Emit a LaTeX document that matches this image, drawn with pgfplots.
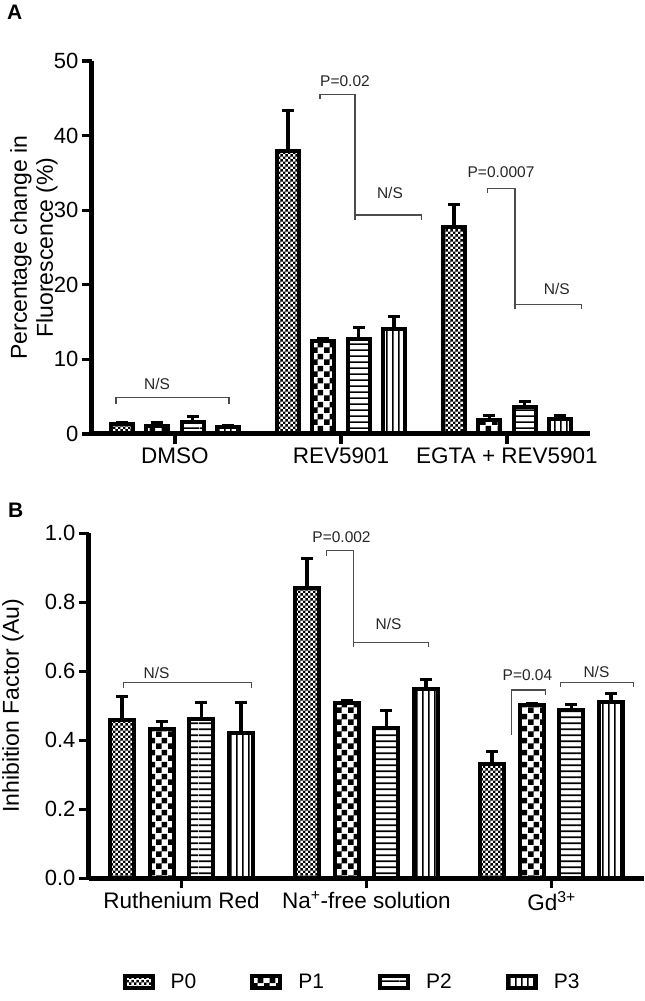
\documentclass[border=0pt]{standalone}
\usepackage{fontspec}
\setmainfont{Liberation Sans}
\usepackage{pgfplots}
\pgfplotsset{compat=1.18}
\usetikzlibrary{patterns}

\pgfdeclarepatternformonly{pzero}{\pgfpointorigin}{\pgfpoint{5.4pt}{5.4pt}}{\pgfpoint{5.4pt}{5.4pt}}{%
  \pgfpathrectangle{\pgfpointorigin}{\pgfpoint{2.7pt}{2.7pt}}%
  \pgfpathrectangle{\pgfpoint{2.7pt}{2.7pt}}{\pgfpoint{2.7pt}{2.7pt}}%
  \pgfusepath{fill}}
\pgfdeclarepatternformonly{pone}{\pgfpointorigin}{\pgfpoint{12pt}{12pt}}{\pgfpoint{12pt}{12pt}}{%
  \pgfpathrectangle{\pgfpointorigin}{\pgfpoint{6pt}{6pt}}%
  \pgfpathrectangle{\pgfpoint{6pt}{6pt}}{\pgfpoint{6pt}{6pt}}%
  \pgfusepath{fill}}
\pgfdeclarepatternformonly{ptwo}{\pgfpoint{0pt}{0pt}}{\pgfpoint{200pt}{5.7pt}}{\pgfpoint{200pt}{5.7pt}}{%
  \pgfpathrectangle{\pgfpoint{0pt}{2.1pt}}{\pgfpoint{200pt}{1.6pt}}%
  \pgfusepath{fill}}
\pgfdeclarepatternformonly{pthree}{\pgfpoint{0pt}{0pt}}{\pgfpoint{5.7pt}{500pt}}{\pgfpoint{5.7pt}{500pt}}{%
  \pgfpathrectangle{\pgfpoint{2.1pt}{0pt}}{\pgfpoint{1.6pt}{500pt}}%
  \pgfusepath{fill}}

\tikzset{
  br/.style={draw=black!70, line width=1.2pt},
  lbl/.style={font=\fontsize{15.5}{18}\selectfont, text=black!85, inner sep=0pt, anchor=center},
}
\pgfplotsset{
  panel/.style={
    scale only axis,
    ybar,
    axis x line*=bottom, axis y line*=left,
    axis line style={line width=5pt, -},
    xmin=-0.5, xmax=2.5,
    xtick={0,1,2},
    tick align=outside,
    major tick length=10pt,
    tick style={line width=3.3pt, black},
    /pgf/number format/assume math mode=true,
    yticklabel style={font=\fontsize{22}{26}\selectfont},
    xticklabel style={font=\fontsize{22.5}{26}\selectfont},
    clip=false,
    every axis plot/.append style={draw=black, line width=4pt,
      error bars/y dir=plus, error bars/y explicit,
      error bars/error bar style={line width=3.3pt, black},
      error bars/error mark options={line width=3pt, mark size=6pt, black, rotate=90}},
    legend image code/.code={\draw[##1, /tikz/line width=4pt] (0pt,-6pt) rectangle (28pt,6pt); \path (42pt,0pt);},
  },
}

\begin{document}
\begin{tikzpicture}
\path[use as bounding box] (0pt,0pt) rectangle (645pt,1001pt);
\node[anchor=north west, inner sep=0pt, font=\fontsize{21}{24}\selectfont\bfseries] at (7pt,996pt) {A};
\node[anchor=north west, inner sep=0pt, font=\fontsize{21}{24}\selectfont\bfseries] at (8pt,498pt) {B};

% ---------------- Panel A
\begin{axis}[panel,
  at={(92pt,567pt)}, anchor=south west,
  width=498pt, height=373pt, bar width=22pt,
  ymin=0, ymax=50, ytick={0,10,20,30,40,50},
  xticklabels={DMSO, REV5901, EGTA + REV5901},
  ylabel={Percentage change in\\Fluorescence (\%)},
  ylabel style={align=center, font=\fontsize{23}{26}\selectfont, at={(axis description cs:-0.1165,0.5)}, anchor=center},
]
\addplot[bar shift=-53pt, pattern=pzero] coordinates {(0,1.3) +- (0,0.3) (1,37.9) +- (0,5.5) (2,27.8) +- (0,3.0)};
\addplot[bar shift=-17.7pt, pattern=pone] coordinates {(0,1.1) +- (0,0.4) (1,12.4) +- (0,0.45) (2,1.85) +- (0,0.6)};
\addplot[bar shift=17.7pt, pattern=ptwo] coordinates {(0,1.55) +- (0,0.75) (1,12.7) +- (0,1.6) (2,3.6) +- (0,0.8)};
\addplot[bar shift=53pt, pattern=pthree] coordinates {(0,0.9) +- (0,0.25) (1,14.1) +- (0,1.6) (2,1.95) +- (0,0.5)};
% brackets
\draw[br] (-0.355,4.0) -- (-0.355,4.87) -- (0.325,4.87) -- (0.325,4.0);
\node[lbl] at (-0.108,6.7) {N/S};
\draw[br] (0.873,44.9) -- (0.873,45.5) -- (1.084,45.5) -- (1.084,28.7);
\draw[br] (1.084,29.35) -- (1.486,29.35) -- (1.486,28.7);
\node[lbl] at (1.024,47.3) {P=0.02};
\node[lbl] at (1.295,32.3) {N/S};
\draw[br] (1.881,32.35) -- (1.881,32.9) -- (2.048,32.9) -- (2.048,16.7);
\draw[br] (2.048,17.4) -- (2.45,17.4) -- (2.45,16.7);
\node[lbl] at (1.964,35.1) {P=0.0007};
\node[lbl] at (2.30,19.4) {N/S};
\end{axis}

% ---------------- Panel B
\begin{axis}[panel,
  at={(89pt,122.7pt)}, anchor=south west,
  width=555pt, height=345pt, bar width=24pt,
  ymin=0, ymax=1, ytick={0,0.2,0.4,0.6,0.8,1.0},
  yticklabel style={/pgf/number format/.cd, fixed, fixed zerofill, precision=1},
  xticklabels={Ruthenium Red, Na\textsuperscript{+}-free solution, Gd\textsuperscript{3+}},
  ylabel={Inhibition Factor (Au)},
  ylabel style={font=\fontsize{23}{26}\selectfont, at={(axis description cs:-0.137,0.5)}, anchor=center},
  legend columns=4,
  legend style={at={(axis description cs:0.055,-0.30)}, anchor=west, draw=none, fill=none,
    font=\fontsize{21}{24}\selectfont,
    /tikz/every even column/.append style={column sep=52pt}},
]
\addplot[bar shift=-59.4pt, pattern=pzero] coordinates {(0,0.46) +- (0,0.068) (1,0.84) +- (0,0.087) (2,0.33) +- (0,0.038)};
\addplot[bar shift=-19.8pt, pattern=pone] coordinates {(0,0.433) +- (0,0.022) (1,0.508) +- (0,0.006) (2,0.502) +- (0,0.004)};
\addplot[bar shift=19.8pt, pattern=ptwo] coordinates {(0,0.462) +- (0,0.047) (1,0.436) +- (0,0.051) (2,0.488) +- (0,0.017)};
\addplot[bar shift=59.4pt, pattern=pthree] coordinates {(0,0.42) +- (0,0.09) (1,0.548) +- (0,0.028) (2,0.51) +- (0,0.027)};
\legend{P0,P1,P2,P3}
% brackets
\draw[br] (-0.314,0.551) -- (-0.314,0.568) -- (0.377,0.568) -- (0.377,0.551);
\node[lbl] at (-0.135,0.595) {N/S};
\draw[br] (0.784,0.934) -- (0.784,0.949) -- (0.931,0.949) -- (0.931,0.67);
\draw[br] (0.931,0.683) -- (1.337,0.683) -- (1.337,0.67);
\node[lbl] at (0.865,0.988) {P=0.002};
\node[lbl] at (1.119,0.737) {N/S};
\draw[br] (1.784,0.415) -- (1.784,0.546) -- (1.968,0.546) -- (1.968,0.531);
\node[lbl] at (1.870,0.589) {P=0.04};
\draw[br] (2.049,0.554) -- (2.049,0.568) -- (2.442,0.568) -- (2.442,0.554);
\node[lbl] at (2.243,0.597) {N/S};
\end{axis}
\end{tikzpicture}
\end{document}
